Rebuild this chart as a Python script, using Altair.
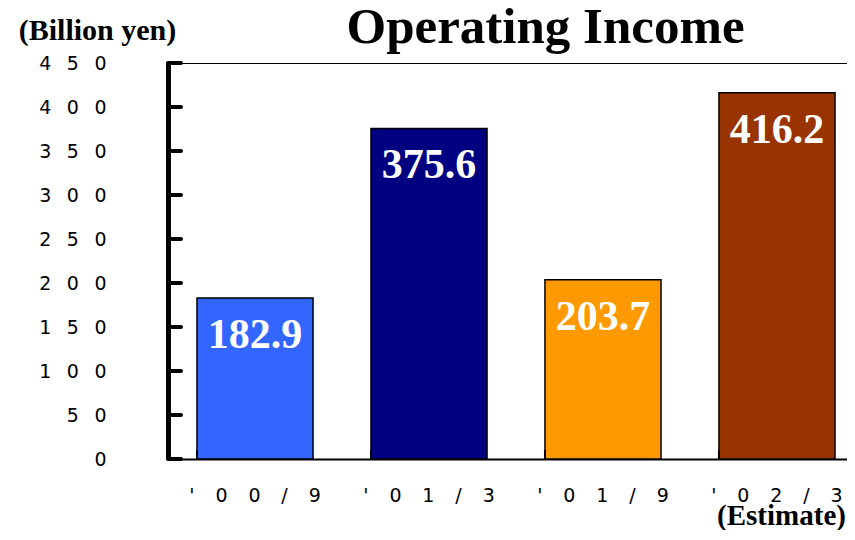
import altair as alt
import pandas as pd

categories = ["'00/9", "'01/3", "'01/9", "'02/3"]
values = [182.9, 375.6, 203.7, 416.2]
colors = ["#3366FF", "#000080", "#FF9900", "#993300"]
yticks = [0, 50, 100, 150, 200, 250, 300, 350, 400, 450]

df = pd.DataFrame({"period": categories, "value": values})
ticks_df = pd.DataFrame({"v": yticks})

SANS = "DejaVu Sans"
SERIF = "Liberation Serif"

xscale = alt.Scale(domain=categories, range=[0, 696], paddingInner=0.333, paddingOuter=0.1667)
yscale = alt.Scale(domain=[0, 450], nice=False)

x_enc = alt.X(
    "period:N",
    sort=categories,
    scale=xscale,
    axis=alt.Axis(
        orient="bottom",
        title="(Estimate)",
        titleFont=SERIF,
        titleFontSize=29,
        titleFontWeight="bold",
        titleColor="black",
        titleX=613,
        titleY=65,
        titleAlign="center",
        titleBaseline="alphabetic",
        labelAngle=0,
        labelFont=SANS,
        labelFontSize=19,
        labelColor="black",
        labelPadding=27,
        labelExpr="join(split(datum.label, ''), '\u2003\u200a')",
        ticks=False,
        tickSize=0,
        domainWidth=2,
        domainColor="black",
        grid=False,
    ),
)

y_enc = alt.Y(
    "value:Q",
    scale=yscale,
    axis=alt.Axis(
        values=yticks,
        title="(Billion yen)",
        titleFont=SERIF,
        titleFontSize=30,
        titleFontWeight="bold",
        titleColor="black",
        titleAngle=0,
        titleX=-71,
        titleY=-24,
        titleAlign="center",
        titleBaseline="alphabetic",
        labelFont=SANS,
        labelFontSize=19,
        labelColor="black",
        labelPadding=62,
        labelExpr="join(split(datum.label, ''), '\u2002 ')",
        ticks=False,
        tickSize=0,
        domainWidth=5,
        domainColor="black",
        grid=True,
        gridColor="black",
        gridWidth=1,
        gridOpacity={"condition": {"test": "datum.value === 450", "value": 1}, "value": 0},
    ),
)

bars = alt.Chart(df).mark_bar(stroke="black", strokeWidth=1.5).encode(
    x=x_enc,
    y=y_enc,
    color=alt.Color("period:N", sort=categories,
                    scale=alt.Scale(domain=categories, range=colors), legend=None),
)

labels = alt.Chart(df).mark_text(
    font=SERIF, fontSize=42, fontWeight="bold", color="white", baseline="middle", dy=37
).encode(
    x=alt.X("period:N", sort=categories, axis=None),
    y=alt.Y("value:Q"),
    text=alt.Text("value:Q", format=".1f"),
)

ytick_rules = alt.Chart(ticks_df).mark_rule(color="black", strokeWidth=4, strokeCap="round").encode(
    y=alt.Y("v:Q"),
    x=alt.value(0),
    x2=alt.value(13),
)

# small upward ticks between categories; this layer also carries the chart title on a top axis
xtick_rules = alt.Chart(df).mark_rule(color="black", strokeWidth=2).encode(
    x=alt.X(
        "period:N",
        sort=categories,
        bandPosition=0,
        axis=alt.Axis(
            orient="top",
            title="Operating Income",
            titleFont=SERIF,
            titleFontSize=51,
            titleFontWeight="bold",
            titleColor="black",
            titleX=377,
            titleY=-21,
            titleAlign="center",
            titleBaseline="alphabetic",
            labels=False,
            ticks=False,
            domain=False,
            grid=False,
        ),
    ),
    y=alt.datum(0),
    y2=alt.datum(10),
)

chart = alt.layer(bars, labels, ytick_rules, xtick_rules).resolve_axis(x="independent").properties(
    width=679,
    height=396,
    autosize=alt.AutoSizeParams(type="none"),
    padding={"left": 160, "top": 55, "right": 0, "bottom": 71},
    background="white",
).configure_view(stroke=None)

chart.save("out.html", embed_options={"renderer": "svg", "actions": False})
